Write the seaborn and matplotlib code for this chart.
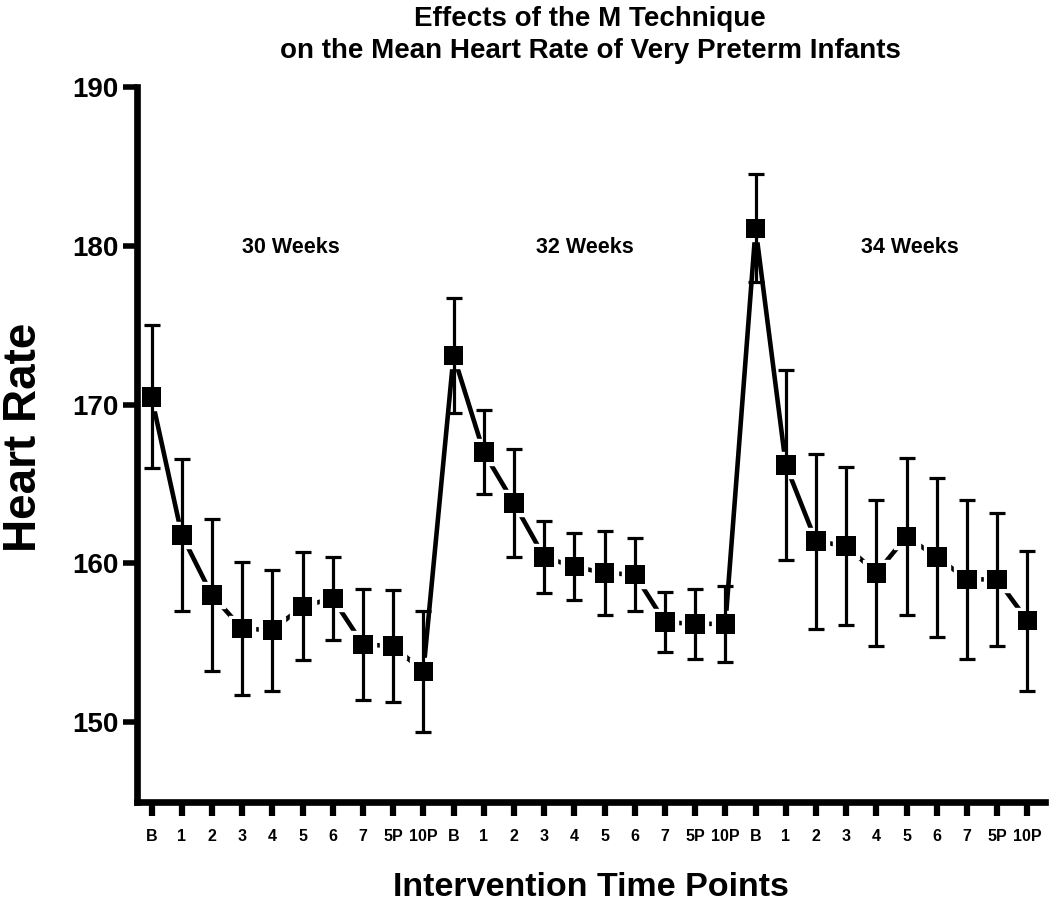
import numpy as np
import pandas as pd
import matplotlib
matplotlib.use("Agg")
import matplotlib.pyplot as plt
import seaborn as sns

# --- data ---
time_labels = ["B", "1", "2", "3", "4", "5", "6", "7", "5P", "10P"]
groups = ["30 Weeks", "32 Weeks", "34 Weeks"]

mean_30 = [170.5, 161.8, 158.0, 155.9, 155.8, 157.3, 157.8, 154.9, 154.8, 153.2]
sem_30 = [4.5, 4.8, 4.8, 4.2, 3.8, 3.4, 2.6, 3.5, 3.5, 3.8]
mean_32 = [173.1, 167.0, 163.8, 160.4, 159.8, 159.4, 159.3, 156.3, 156.2, 156.2]
sem_32 = [3.6, 2.65, 3.4, 2.25, 2.1, 2.65, 2.3, 1.9, 2.2, 2.4]
mean_34 = [181.1, 166.2, 161.4, 161.1, 159.4, 161.7, 160.4, 159.0, 159.0, 156.4]
sem_34 = [3.4, 6.0, 5.5, 5.0, 4.6, 4.95, 5.0, 5.0, 4.2, 4.4]

df = pd.DataFrame({
    "group": np.repeat(groups, len(time_labels)),
    "time": time_labels * len(groups),
    "hr": mean_30 + mean_32 + mean_34,
    "sem": sem_30 + sem_32 + sem_34,
})
df["pos"] = np.arange(len(df))

sns.set_theme(style="ticks", rc={"text.color": "black", "axes.labelcolor": "black",
                                 "xtick.color": "black", "ytick.color": "black"})
plt.rcParams["font.family"] = ["Liberation Sans", "DejaVu Sans"]

fig = plt.figure(figsize=(10.5, 9.02), dpi=100)
ax = fig.add_axes([0.1305, 0.1112, 0.865, 0.7923])

# line (with gaps around markers via white halo)
sns.lineplot(data=df, x="pos", y="hr", color="black", lw=3.3, ax=ax,
             estimator=None, zorder=1)
ax.plot(df["pos"], df["hr"], ls="none", marker="s", ms=19, mfc="white",
        mec="white", zorder=2)
ax.errorbar(df["pos"], df["hr"], yerr=df["sem"], fmt="none", ecolor="black",
            elinewidth=2.3, capsize=6, capthick=2.3, zorder=3)
sns.scatterplot(data=df, x="pos", y="hr", marker="s", s=200, color="black",
                edgecolor="none", ax=ax, zorder=4)

# group labels
label_pos = [4.6, 14.35, 25.1]
for g, xp in zip(groups, label_pos):
    ax.text(xp, 179.9, g, ha="center", va="center", fontsize=15.5,
            fontweight="bold")

ax.set_xlim(-0.48, 29.59)
ax.set_ylim(145, 190)
ax.set_yticks([150, 160, 170, 180, 190])
ax.set_xticks(df["pos"])
ax.set_xticklabels(df["time"], fontsize=11.5, fontweight="bold")
for lab in ax.get_yticklabels():
    lab.set_fontsize(20)
    lab.set_fontweight("bold")

for side in ["top", "right"]:
    ax.spines[side].set_visible(False)
for side in ["left", "bottom"]:
    ax.spines[side].set_linewidth(4.8)
    ax.spines[side].set_color("black")
    ax.spines[side].set_capstyle("projecting")
ax.tick_params(axis="y", direction="out", length=10, width=4, pad=3)
ax.tick_params(axis="x", direction="out", length=10, width=4.5, pad=10)

ax.set_xlabel("Intervention Time Points", fontsize=24.5, fontweight="bold",
              labelpad=20)
ax.set_ylabel("Heart Rate", fontsize=33, fontweight="bold")
ax.yaxis.set_label_coords(-0.1, 0.51)

fig.text(0.562, 0.979, "Effects of the M Technique", ha="center", va="center",
         fontsize=20, fontweight="bold")
fig.text(0.562, 0.944, "on the Mean Heart Rate of Very Preterm Infants",
         ha="center", va="center", fontsize=20, fontweight="bold")

fig.savefig("out.png", dpi=100)
